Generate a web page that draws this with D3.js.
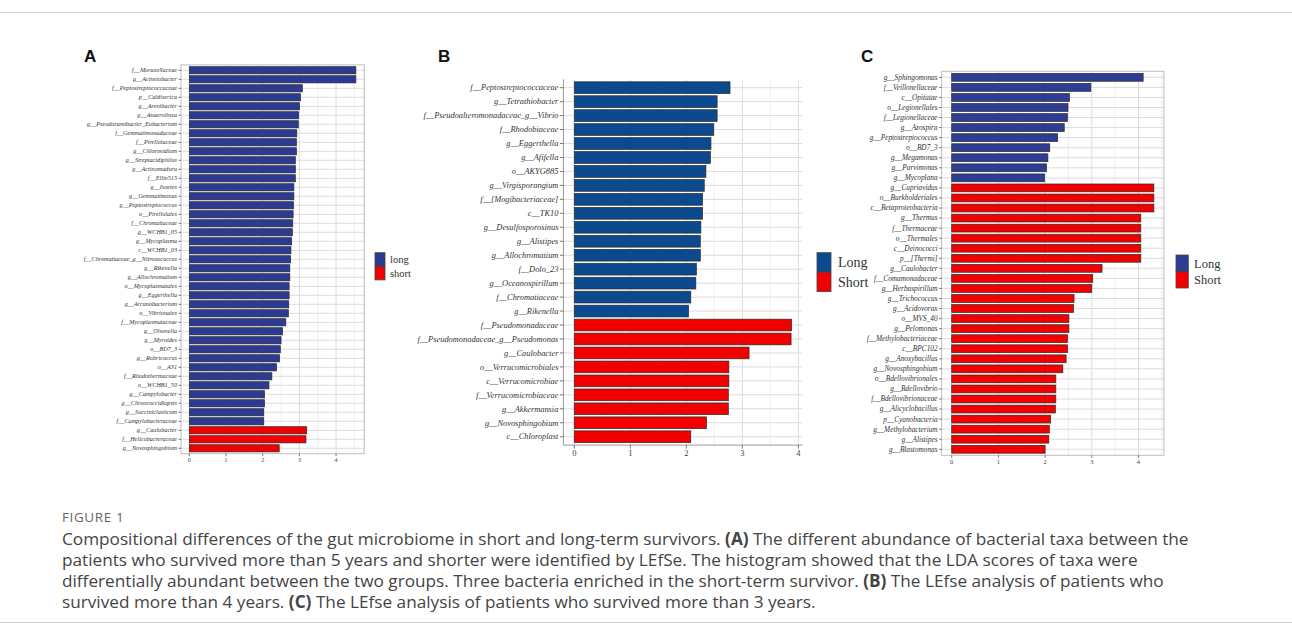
<!DOCTYPE html>
<html lang="en">
<head>
<meta charset="utf-8">
<title>Figure 1 - LEfSe</title>
<script src="https://cdn.jsdelivr.net/npm/d3@7"></script>
<style>
  body { margin: 0; background: #fff; }
  svg { display: block; }
</style>
</head>
<body>
<svg id="fig" width="1292" height="626"></svg>
<script>
// panel A: survived > 5 years
const aNames = ["f__Moraxellaceae","g__Acinetobacter","f__Peptostreptococcaceae","p__Caldiserica","g__Arenibacter",
  "g__Anaerolinea","g__Pseudoramibacter_Eubacterium","f__Gemmatimonadaceae","f__Pirellulaceae","g__Chloronidium",
  "g__Streptacidiphilus","g__Actinomadura","f__Ellin515","g__Isoetes","g__Gemmatimonas","g__Peptostreptococcus",
  "o__Pirellulales","f__Chromatiaceae","g__WCHB1_05","g__Mycoplasma","c__WCHB1_03","f__Chromatiaceae_g__Nitrosococcus",
  "g__Rikenella","g__Allochromatium","o__Mycoplasmatales","g__Eggerthella","g__Arcanobacterium","o__Vibrionales",
  "f__Mycoplasmataceae","g__Olsenella","g__Myroides","o__BD7_3","g__Rubricoccus","o__A31","f__Rhodothermaceae",
  "o__WCHB1_50","g__Campylobacter","g__Chroococcidiopsis","g__Succiniclasticum","f__Campylobacteraceae",
  "g__Caulobacter","f__Helicobacteraceae","g__Novosphingobium"];
const aValues = [4.54,4.54,3.08,3.03,3.0,2.98,2.97,2.93,2.92,2.92,2.89,2.89,2.89,2.85,2.85,2.84,2.83,2.82,2.81,2.79,
  2.77,2.76,2.74,2.74,2.72,2.72,2.71,2.70,2.63,2.54,2.50,2.48,2.46,2.38,2.25,2.17,2.05,2.05,2.03,2.03,
  3.20,3.18,2.45];
const aGroups = aValues.map((v, i) => i < 40 ? "long" : "short");

// panel B: survived > 4 years
const bNames = ["f__Peptostreptococcaceae","g__Tetrathiobacter","f__Pseudoalteromonadaceae_g__Vibrio","f__Rhodobiaceae",
  "g__Eggerthella","g__Afifella","o__AKYG885","g__Virgisporangium","f__[Mogibacteriaceae]","c__TK10",
  "g__Desulfosporosinus","g__Alistipes","g__Allochromatium","f__Dolo_23","g__Oceanospirillum","f__Chromatiaceae",
  "g__Rikenella","f__Pseudomonadaceae","f__Pseudomonadaceae_g__Pseudomonas","g__Caulobacter","o__Verrucomicrobiales",
  "c__Verrucomicrobiae","f__Verrucomicrobiaceae","g__Akkermansia","g__Novosphingobium","c__Chloroplast"];
const bValues = [2.78,2.55,2.55,2.49,2.44,2.43,2.35,2.32,2.29,2.29,2.26,2.25,2.25,2.18,2.17,2.08,2.04,
  3.88,3.87,3.12,2.76,2.76,2.75,2.75,2.36,2.08];
const bGroups = bValues.map((v, i) => i < 17 ? "long" : "short");

// panel C: survived > 3 years
const cNames = ["g__Sphingomonas","f__Veillonellaceae","c__Opitutae","o__Legionellales","f__Legionellaceae","g__Azospira",
  "g__Peptostreptococcus","o__BD7_3","g__Megamonas","g__Parvimonas","g__Mycoplana","g__Cupriavidus","o__Burkholderiales",
  "c__Betaproteobacteria","g__Thermus","f__Thermaceae","o__Thermales","c__Deinococci","p__[Thermi]","g__Caulobacter",
  "f__Comamonadaceae","g__Herbaspirillum","g__Trichococcus","g__Acidovorax","o__MVS_40","g__Pelomonas",
  "f__Methylobacteriaceae","c__BPC102","g__Anoxybacillus","g__Novosphingobium","o__Bdellovibrionales","g__Bdellovibrio",
  "f__Bdellovibrionaceae","g__Alicyclobacillus","p__Cyanobacteria","g__Methylobacterium","g__Alistipes","g__Blastomonas"];
const cValues = [4.10,2.98,2.52,2.49,2.48,2.41,2.27,2.10,2.06,2.03,1.99,4.33,4.33,4.33,4.05,4.05,4.05,4.05,4.05,3.22,
  3.02,3.0,2.62,2.61,2.51,2.51,2.48,2.48,2.45,2.38,2.23,2.23,2.23,2.22,2.12,2.09,2.08,2.0];
const cGroups = cValues.map((v, i) => i < 11 ? "long" : "short");

const xTicks = [0, 1, 2, 3, 4];

const captionTitle = "FIGURE 1";
const captionLines = [
  [["Compositional differences of the gut microbiome in short and long-term survivors. ", false], ["(A)", true], [" The different abundance of bacterial taxa between the", false]],
  [["patients who survived more than 5 years and shorter were identified by LEfSe. The histogram showed that the LDA scores of taxa were", false]],
  [["differentially abundant between the two groups. Three bacteria enriched in the short-term survivor. ", false], ["(B)", true], [" The LEfse analysis of patients who", false]],
  [["survived more than 4 years. ", false], ["(C)", true], [" The LEfse analysis of patients who survived more than 3 years.", false]]
];

const svg = d3.select("#fig");
const serif = "'Liberation Serif', 'DejaVu Serif', serif";
const sans = "'Liberation Sans', Arial, sans-serif";

// frame lines
svg.append("line").attr("x1", 0).attr("x2", 1292).attr("y1", 12.5).attr("y2", 12.5)
  .attr("stroke", "#cfcfcf").attr("stroke-width", 1);
svg.append("line").attr("x1", 0).attr("x2", 1292).attr("y1", 622.5).attr("y2", 622.5)
  .attr("stroke", "#cfcfcf").attr("stroke-width", 1);

function drawPanel(p) {
  const g = svg.append("g");
  const max = d3.max(p.values);
  const x = d3.scaleLinear().domain([-0.05 * max, 1.05 * max]).range([p.left, p.right]);
  const y = d3.scalePoint().domain(p.names).range([p.top, p.bottom]).padding(0.6);
  const step = y.step();
  const color = d3.scaleOrdinal().domain(["long", "short"]).range([p.blue, "#f20000"]);
  const ticks = xTicks.filter(t => t <= x.domain()[1]);

  // grid
  const minor = d3.range(0.5, x.domain()[1], 1);
  g.selectAll(".minor").data(minor).join("line")
    .attr("x1", d => x(d)).attr("x2", d => x(d)).attr("y1", p.top).attr("y2", p.bottom)
    .attr("stroke", "#ececec").attr("stroke-width", 0.8);
  g.selectAll(".major").data(ticks).join("line")
    .attr("x1", d => x(d)).attr("x2", d => x(d)).attr("y1", p.top).attr("y2", p.bottom)
    .attr("stroke", "#dcdcdc").attr("stroke-width", 1);
  g.selectAll(".hgrid").data(p.names).join("line")
    .attr("x1", p.left).attr("x2", p.right).attr("y1", d => y(d)).attr("y2", d => y(d))
    .attr("stroke", "#dcdcdc").attr("stroke-width", 1);

  // bars
  g.selectAll(".bar").data(p.names).join("rect")
    .attr("x", x(0))
    .attr("y", d => y(d) - step * p.barRatio / 2)
    .attr("width", (d, i) => x(p.values[i]) - x(0))
    .attr("height", step * p.barRatio)
    .attr("fill", (d, i) => color(p.groups[i]))
    .attr("stroke", "#2a2a2a").attr("stroke-width", 0.7);

  // frame / axis lines
  if (p.border) {
    g.append("rect").attr("x", p.left).attr("y", p.top)
      .attr("width", p.right - p.left).attr("height", p.bottom - p.top)
      .attr("fill", "none").attr("stroke", "#bdbdbd").attr("stroke-width", 1);
  } else {
    g.append("line").attr("x1", p.left).attr("x2", p.left).attr("y1", p.top).attr("y2", p.bottom)
      .attr("stroke", "#9a9a9a");
    g.append("line").attr("x1", p.left).attr("x2", p.right).attr("y1", p.bottom).attr("y2", p.bottom)
      .attr("stroke", "#9a9a9a");
  }

  // y labels
  g.selectAll(".ytick").data(p.names).join("line")
    .attr("x1", p.left - p.tickLen).attr("x2", p.left).attr("y1", d => y(d)).attr("y2", d => y(d))
    .attr("stroke", "#555").attr("stroke-width", 0.8);
  g.selectAll(".ylab").data(p.names).join("text")
    .attr("x", p.left - p.tickLen - 1.5).attr("y", d => y(d))
    .attr("dy", "0.33em").attr("text-anchor", "end")
    .attr("font-family", serif).attr("font-style", "italic")
    .attr("font-size", p.labelSize).attr("fill", "#333")
    .text(d => d);

  // x axis
  g.selectAll(".xtick").data(ticks).join("line")
    .attr("x1", d => x(d)).attr("x2", d => x(d)).attr("y1", p.bottom).attr("y2", p.bottom + p.tickLen)
    .attr("stroke", "#555").attr("stroke-width", 0.8);
  g.selectAll(".xlab").data(ticks).join("text")
    .attr("x", d => x(d)).attr("y", p.bottom + p.tickLen + 1.5)
    .attr("dy", "0.75em").attr("text-anchor", "middle")
    .attr("font-family", serif).attr("font-size", p.tickSize).attr("fill", "#444")
    .text(d => d);

  // legend
  const L = p.legend;
  p.legendLabels.forEach((lab, i) => {
    g.append("rect").attr("x", L.x).attr("y", L.y + i * L.h)
      .attr("width", L.w).attr("height", L.h)
      .attr("fill", color(i === 0 ? "long" : "short"))
      .attr("stroke", "#444").attr("stroke-width", 0.8);
    g.append("text").attr("x", L.tx).attr("y", L.y + i * L.h + L.h / 2)
      .attr("dy", "0.35em").attr("font-family", serif).attr("font-size", L.fs)
      .attr("fill", "#333").text(lab);
  });

  // panel letter
  svg.append("text").attr("x", p.letterX).attr("y", 62.3)
    .attr("font-family", sans).attr("font-weight", "bold").attr("font-size", 17)
    .attr("fill", "#111").text(p.letter);
}

drawPanel({
  names: aNames, values: aValues, groups: aGroups, blue: "#2d3a92",
  left: 181, right: 364.2, top: 64.9, bottom: 453.7, border: true, barRatio: 0.8,
  labelSize: 6.2, tickSize: 6, tickLen: 2.5,
  legend: { x: 375, y: 252.7, w: 10, h: 13.6, tx: 390, fs: 10.5 }, legendLabels: ["long", "short"],
  letter: "A", letterX: 84
});
drawPanel({
  names: bNames, values: bValues, groups: bGroups, blue: "#0b4a8e",
  left: 563.4, right: 802.5, top: 79.3, bottom: 445.1, border: false, barRatio: 0.84,
  labelSize: 8.4, tickSize: 8.5, tickLen: 3.5,
  legend: { x: 817, y: 252.7, w: 14, h: 19.4, tx: 838, fs: 14 }, legendLabels: ["Long", "Short"],
  letter: "B", letterX: 438
});
drawPanel({
  names: cNames, values: cValues, groups: cGroups, blue: "#2e3d94",
  left: 941.6, right: 1164, top: 71.3, bottom: 455.3, border: true, barRatio: 0.78,
  labelSize: 7.3, tickSize: 6.5, tickLen: 2.5,
  legend: { x: 1176, y: 255, w: 12.3, h: 16.5, tx: 1194, fs: 12.5 }, legendLabels: ["Long", "Short"],
  letter: "C", letterX: 861
});

// caption
svg.append("text").attr("x", 62).attr("y", 522)
  .attr("font-family", "'Open Sans', sans-serif").attr("font-size", 13.5)
  .attr("letter-spacing", 0.6).attr("fill", "#666").text(captionTitle);

captionLines.forEach((parts, i) => {
  const t = svg.append("text").attr("x", 62).attr("y", 545 + i * 21)
    .attr("font-family", "'Open Sans', sans-serif").attr("font-size", 17.2).attr("fill", "#444");
  parts.forEach(([s, bold]) => {
    t.append("tspan").attr("font-weight", bold ? "bold" : "normal").text(s);
  });
});
</script>
</body>
</html>
